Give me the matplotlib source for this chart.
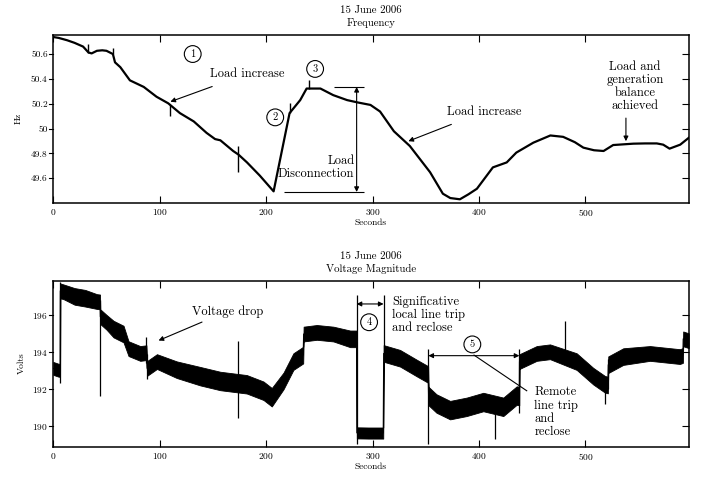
import numpy as np
from matplotlib import pyplot as plt

plt.rcParams['font.family'] = ['cmr10', 'DejaVu Serif']
plt.rcParams['axes.formatter.use_mathtext'] = True

# ---------------- Frequency (Hz) ----------------
freq_t = [0, 5, 13, 20, 28, 33, 36, 41, 46, 50, 56, 58, 63, 72, 85, 97, 108,
          119, 132, 144, 152, 157, 169, 174, 182, 194, 207, 222, 232, 238,
          251, 263, 276, 286, 298, 307, 320, 335, 354, 366, 373, 382, 390,
          398, 413, 426, 435, 451, 467, 479, 490, 498, 508, 517, 526, 545,
          556, 567, 573, 579, 589, 597]
freq_hz = [50.737, 50.73, 50.711, 50.69, 50.66, 50.613, 50.605, 50.626, 50.63,
           50.626, 50.60, 50.533, 50.494, 50.388, 50.335, 50.256, 50.203,
           50.124, 50.057, 49.965, 49.915, 49.905, 49.819, 49.79, 49.727,
           49.621, 49.494, 50.124, 50.229, 50.322, 50.322, 50.269, 50.229,
           50.21, 50.19, 50.137, 49.978, 49.859, 49.648, 49.475, 49.44,
           49.43, 49.47, 49.515, 49.687, 49.727, 49.806, 49.886, 49.944,
           49.933, 49.89, 49.846, 49.825, 49.819, 49.867, 49.878, 49.88,
           49.88, 49.87, 49.838, 49.87, 49.925]
freq_spike_t = [33, 56, 110, 174, 222.5, 240]
freq_spike_lo = [50.61, 50.60, 50.097, 49.648, 50.124, 50.32]
freq_spike_hi = [50.684, 50.652, 50.19, 49.86, 50.203, 50.388]

# ---------------- Voltage magnitude (V): band centre and half width ----------------
volt_t = [0, 5, 6.4, 6.6, 10, 20, 30, 41, 43.9, 44.2, 50, 56.6, 66, 70.7,
          81.7, 87.5, 88.2, 97.4, 116, 138, 156.8, 173.4, 181.8, 197.5, 205.3,
          216.3, 225.6, 234.8, 235.2, 247.6, 263.2, 278.9, 284.9, 285.2, 296,
          310, 310.4, 325.8, 341.5, 352.2, 352.6, 360, 372.8, 388.4, 404,
          422.8, 435.4, 437.8, 438.0, 454.2, 466.7, 491.7, 507.3, 518.3,
          521.0, 521.4, 535.5, 560.6, 588.7, 591.5, 591.8, 597]
volt_mid = [193.1, 193.0, 193.0, 197.3, 197.24, 197.0, 196.9, 196.72, 196.7,
            195.9, 195.6, 195.23, 194.96, 194.17, 193.91, 193.95, 193.1,
            193.47, 193.03, 192.68, 192.42, 192.3, 192.24, 191.89, 191.54,
            192.42, 193.47, 193.82, 194.96, 195.05, 194.96, 194.70, 194.7,
            189.61, 189.6, 189.6, 193.91, 193.65, 193.12, 192.77, 191.6,
            191.2, 190.84, 191.02, 191.28, 191.02, 191.63, 191.6, 193.47,
            193.91, 194.0, 193.47, 192.68, 192.24, 192.2, 193.3, 193.74,
            193.91, 193.74, 193.8, 194.7, 194.6]
volt_half = [0.35, 0.35, 0.35, 0.4, 0.4, 0.45, 0.45, 0.4, 0.4, 0.4, 0.4, 0.45,
             0.45, 0.4, 0.4, 0.4, 0.4, 0.4, 0.45, 0.5, 0.5, 0.5, 0.5, 0.5,
             0.5, 0.45, 0.45, 0.45, 0.4, 0.4, 0.4, 0.45, 0.45, 0.3, 0.3, 0.3,
             0.45, 0.45, 0.45, 0.45, 0.5, 0.5, 0.5, 0.5, 0.5, 0.5, 0.5, 0.5,
             0.4, 0.4, 0.4, 0.45, 0.45, 0.45, 0.45, 0.45, 0.45, 0.4, 0.4,
             0.4, 0.4, 0.4]
volt_spike_t = [6.5, 44, 87, 88, 173.4, 352.4, 415, 437.9, 480.8, 518.3, 521.2]
volt_spike_lo = [192.3, 191.63, 193.4, 192.5, 190.4, 189.0, 189.26, 190.66, 193.8, 191.19, 192.0]
volt_spike_hi = [197.8, 196.8, 194.79, 193.9, 194.61, 194.16, 191.0, 194.16, 195.66, 192.6, 193.6]

x_ticks = [0, 100, 200, 300, 400, 500]
freq_ticks = [49.6, 49.8, 50, 50.2, 50.4, 50.6]
freq_tick_labels = ['49.6', '49.8', '50', '50.2', '50.4', '50.6']
volt_ticks = [190, 192, 194, 196]

SMALL = 6.8
TITLE = 7.8
ANN = 9


def style_axes(ax):
    # MATLAB-like frame: inward ticks on top/right/bottom, short outward ones on the left
    ax.tick_params(axis='x', direction='in', top=True, length=5, width=0.8,
                   labelsize=SMALL, pad=3)
    ax.tick_params(axis='y', which='major', direction='in', right=True, left=False,
                   length=5, width=0.8, labelsize=SMALL, pad=4)
    for s in ax.spines.values():
        s.set_linewidth(1.1)
    ax.set_xticks(x_ticks)
    ax.set_xlim(0, 597)
    ax.set_xlabel('Seconds', fontsize=SMALL, labelpad=1)
    for tk in ax.get_yticks():
        ax.plot([-0.006, 0], [tk, tk], transform=ax.get_yaxis_transform(),
                color='black', lw=0.8, clip_on=False)


def circled(ax, x, y, txt):
    ax.text(x, y, txt, fontsize=7.5, ha='center', va='center',
            bbox=dict(boxstyle='circle,pad=0.35', fc='white', ec='black', lw=0.8))


fig = plt.figure(figsize=(7.01, 4.79), dpi=100)

# ------------------- top: frequency -------------------
ax1 = fig.add_axes([0.0760, 0.5772, 0.9065, 0.3507])
ax1.plot(freq_t, freq_hz, color='black', lw=1.6)
ax1.vlines(freq_spike_t, freq_spike_lo, freq_spike_hi, color='black', lw=1.0)
ax1.set_ylim(49.404, 50.757)
ax1.set_yticks(freq_ticks)
ax1.set_yticklabels(freq_tick_labels)
style_axes(ax1)
ax1.set_ylabel('Hz', fontsize=SMALL, labelpad=6)
ax1.set_title('15 June 2006\nFrequency', fontsize=TITLE, linespacing=1.35, pad=6)

arrow = dict(arrowstyle='-|>', color='black', lw=0.8, mutation_scale=7)
circled(ax1, 131, 50.6, '1')
ax1.annotate('Load increase', xy=(110, 50.216), xytext=(147, 50.44),
             fontsize=ANN, va='center', ha='left', arrowprops=dict(arrow, shrinkA=8, shrinkB=0))
circled(ax1, 208.5, 50.09, '2')
circled(ax1, 246, 50.48, '3')
ax1.hlines([50.335], 264, 292, color='black', lw=0.8)
ax1.hlines([49.489], 217, 292, color='black', lw=0.8)
ax1.annotate('', xy=(285, 50.335), xytext=(285, 49.489),
             arrowprops=dict(arrowstyle='<|-|>', color='black', lw=0.8,
                             mutation_scale=7, shrinkA=0, shrinkB=0))
ax1.text(283, 49.686, 'Load\nDisconnection', fontsize=ANN, ha='right',
         va='center', multialignment='right', linespacing=1.1)
ax1.annotate('Load increase', xy=(333.6, 49.898), xytext=(370, 50.137),
             fontsize=ANN, va='center', ha='left', arrowprops=dict(arrow, shrinkA=8, shrinkB=0))
ax1.annotate('', xy=(538, 49.898), xytext=(538, 50.084),
             arrowprops=dict(arrow, shrinkA=0, shrinkB=0))
ax1.text(546.5, 50.336, 'Load and\ngeneration\nbalance\nachieved', fontsize=ANN,
         ha='center', va='center', linespacing=1.1)

# ------------------- bottom: voltage -------------------
ax2 = fig.add_axes([0.0760, 0.0678, 0.9065, 0.3466])
lo = np.array(volt_mid) - np.array(volt_half)
hi = np.array(volt_mid) + np.array(volt_half)
ax2.fill_between(volt_t, lo, hi, color='black', lw=0.6)
ax2.plot(volt_t, volt_mid, color='black', lw=0.8)
ax2.vlines(volt_spike_t, volt_spike_lo, volt_spike_hi, color='black', lw=0.9)
ax2.set_ylim(188.87, 197.86)
ax2.set_yticks(volt_ticks)
style_axes(ax2)
ax2.set_ylabel('Volts', fontsize=SMALL, labelpad=4)
ax2.set_title('15 June 2006\nVoltage Magnitude', fontsize=TITLE, linespacing=1.35, pad=6)

ax2.annotate('Voltage drop', xy=(98.9, 194.61), xytext=(130, 196.19),
             fontsize=ANN, va='center', ha='left', arrowprops=dict(arrow, shrinkA=3, shrinkB=0))
ax2.vlines([285, 310.3], [189.0, 193.5], [197.1, 197.1], color='black', lw=0.9)
ax2.annotate('', xy=(285, 196.59), xytext=(310.3, 196.59),
             arrowprops=dict(arrowstyle='<|-|>', color='black', lw=0.8,
                             mutation_scale=7, shrinkA=0, shrinkB=0))
circled(ax2, 296.7, 195.6, '4')
ax2.text(318, 196.02, 'Significative\nlocal line trip\nand reclose', fontsize=ANN,
         ha='left', va='center', linespacing=1.1)
ax2.annotate('', xy=(352.4, 193.79), xytext=(437.9, 193.79),
             arrowprops=dict(arrowstyle='<|-|>', color='black', lw=0.8,
                             mutation_scale=7, shrinkA=0, shrinkB=0))
circled(ax2, 393.7, 194.4, '5')
ax2.plot([395.3, 444.8], [193.82, 191.89], color='black', lw=0.8)
ax2.text(452, 190.74, 'Remote\nline trip\nand\nreclose', fontsize=ANN,
         ha='left', va='center', linespacing=1.1)

fig.savefig('out.png', dpi=100)
